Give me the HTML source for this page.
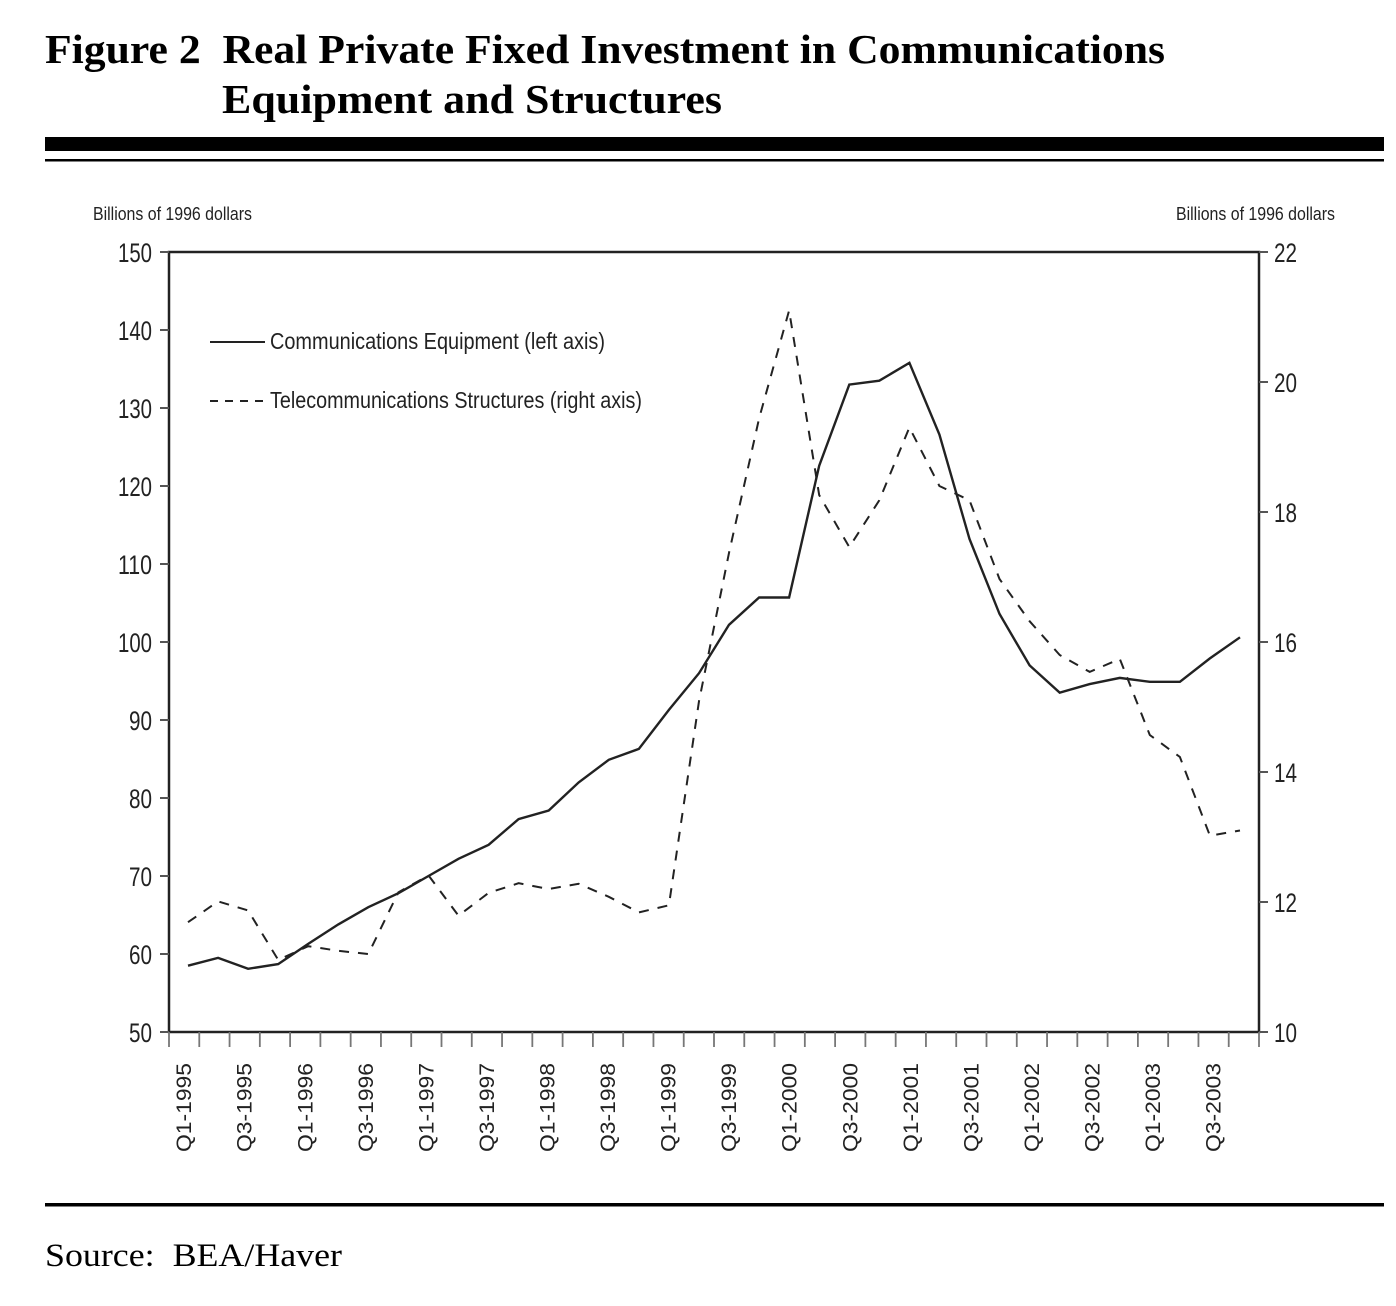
<!DOCTYPE html>
<html><head><meta charset="utf-8"><style>
html,body{margin:0;padding:0;background:#fff;}
svg{display:block;}
</style></head><body>
<svg id="chart" width="1396" height="1306" viewBox="0 0 1396 1306" xmlns="http://www.w3.org/2000/svg">
<text x="45" y="63" font-family="Liberation Serif, serif" font-weight="bold" font-size="41" textLength="1120" lengthAdjust="spacingAndGlyphs" xml:space="preserve">Figure 2  Real Private Fixed Investment in Communications</text>
<text x="222" y="113" font-family="Liberation Serif, serif" font-weight="bold" font-size="41" textLength="500" lengthAdjust="spacingAndGlyphs">Equipment and Structures</text>
<rect x="45" y="137" width="1339" height="14" fill="#000"/>
<rect x="45" y="159" width="1339" height="2.5" fill="#000"/>
<text x="93" y="220" font-family="Liberation Sans, sans-serif" font-size="18" fill="#222" textLength="159" lengthAdjust="spacingAndGlyphs">Billions of 1996 dollars</text>
<text x="1176" y="220" font-family="Liberation Sans, sans-serif" font-size="18" fill="#222" textLength="159" lengthAdjust="spacingAndGlyphs">Billions of 1996 dollars</text>
<g id="plot"></g>
<g>
<line x1="210" y1="342" x2="265" y2="342" stroke="#222" stroke-width="2"/>
<text x="270" y="349" font-family="Liberation Sans, sans-serif" font-size="23" fill="#222" textLength="335" lengthAdjust="spacingAndGlyphs">Communications Equipment (left axis)</text>
<line x1="210" y1="401" x2="265" y2="401" stroke="#222" stroke-width="2" stroke-dasharray="8,7"/>
<text x="270" y="408" font-family="Liberation Sans, sans-serif" font-size="23" fill="#222" textLength="372" lengthAdjust="spacingAndGlyphs">Telecommunications Structures (right axis)</text>
</g>
<rect x="45" y="1203" width="1339" height="3.5" fill="#000"/>
<text x="45" y="1266" font-family="Liberation Serif, serif" font-size="33" textLength="297" lengthAdjust="spacingAndGlyphs" xml:space="preserve">Source:  BEA/Haver</text>
</svg>
<script>
const quarters = ["Q1-1995","Q2-1995","Q3-1995","Q4-1995","Q1-1996","Q2-1996","Q3-1996","Q4-1996","Q1-1997","Q2-1997","Q3-1997","Q4-1997","Q1-1998","Q2-1998","Q3-1998","Q4-1998","Q1-1999","Q2-1999","Q3-1999","Q4-1999","Q1-2000","Q2-2000","Q3-2000","Q4-2000","Q1-2001","Q2-2001","Q3-2001","Q4-2001","Q1-2002","Q2-2002","Q3-2002","Q4-2002","Q1-2003","Q2-2003","Q3-2003","Q4-2003"];
const commEquipment = [58.5,59.5,58.1,58.7,61.3,63.8,66.0,67.8,70.0,72.2,74.0,77.3,78.4,82.0,84.9,86.3,91.3,96.0,102.2,105.7,105.7,122.6,133.0,133.5,135.8,126.6,113.2,103.6,97.0,93.5,94.6,95.4,94.9,94.9,97.9,100.6];
const telecomStructures = [11.69,12.01,11.87,11.11,11.32,11.25,11.20,12.15,12.41,11.79,12.14,12.29,12.20,12.28,12.08,11.84,11.95,15.09,17.37,19.44,21.1,18.26,17.46,18.18,19.3,18.40,18.18,16.97,16.32,15.80,15.54,15.74,14.57,14.23,13.02,13.10];
const leftTicks = [50,60,70,80,90,100,110,120,130,140,150];
const rightTicks = [10,12,14,16,18,20,22];

const NS = "http://www.w3.org/2000/svg";
const plot = document.getElementById('plot');
const L = 169, R = 1259, T = 252, B = 1032;
const band = (R - L) / quarters.length;
const yLeft = v => B - (v - 50) / 100 * (B - T);
const yRight = v => B - (v - 10) / 12 * (B - T);
const xPoint = i => 188 + i * (1240 - 188) / (quarters.length - 1);
const xLabel = i => L + band * (i + 0.5);
function mk(tag, attrs, parent) {
  const e = document.createElementNS(NS, tag);
  for (const k in attrs) e.setAttribute(k, attrs[k]);
  (parent || plot).appendChild(e);
  return e;
}
const frame = mk('rect', {x: L, y: T, width: R - L, height: B - T, fill: 'none', stroke: '#222', 'stroke-width': 2.5});


leftTicks.forEach(v => {
  const y = yLeft(v);
  const t = mk('line', {x1: L - 9, y1: y, x2: L, y2: y, stroke: '#555', 'stroke-width': 2});
  
  
  const s = String(v);
  const lb = mk('text', {x: 152, y: y + 10, 'text-anchor': 'end', 'font-family': 'Liberation Sans, sans-serif', 'font-size': 27, fill: '#222', textLength: s.length === 3 ? 34 : 23, lengthAdjust: 'spacingAndGlyphs'});
  lb.textContent = s;
  
  
});
rightTicks.forEach(v => {
  const y = yRight(v);
  const t = mk('line', {x1: R, y1: y, x2: R + 9, y2: y, stroke: '#555', 'stroke-width': 2});
  
  
  const lb = mk('text', {x: 1274, y: y + 10, 'font-family': 'Liberation Sans, sans-serif', 'font-size': 27, fill: '#222', textLength: 23, lengthAdjust: 'spacingAndGlyphs'});
  lb.textContent = String(v);
  
  
});
for (let i = 0; i <= quarters.length; i++) {
  const x = L + band * i;
  const t = mk('line', {x1: x, y1: B, x2: x, y2: B + 15, stroke: '#777', 'stroke-width': 1.8});
  
  
}
quarters.forEach((q, i) => {
  if (i % 2 !== 0) return;
  const x = xLabel(i) + 7;
  const lb = mk('text', {x: 0, y: 0, transform: `translate(${x},1152) rotate(-90)`, 'font-family': 'Liberation Sans, sans-serif', 'font-size': 21, fill: '#222', textLength: 89, lengthAdjust: 'spacingAndGlyphs'});
  lb.textContent = q;
  
  
});
const pts1 = commEquipment.map((v, i) => xPoint(i).toFixed(1) + ',' + yLeft(v).toFixed(1)).join(' ');
const s1 = mk('polyline', {points: pts1, fill: 'none', stroke: '#222', 'stroke-width': 2.4, 'stroke-linejoin': 'miter'});


const pts2 = telecomStructures.map((v, i) => xPoint(i).toFixed(1) + ',' + yRight(v).toFixed(1)).join(' ');
const s2 = mk('polyline', {points: pts2, fill: 'none', stroke: '#222', 'stroke-width': 2, 'stroke-dasharray': '10,9'});


</script>
</body></html>
